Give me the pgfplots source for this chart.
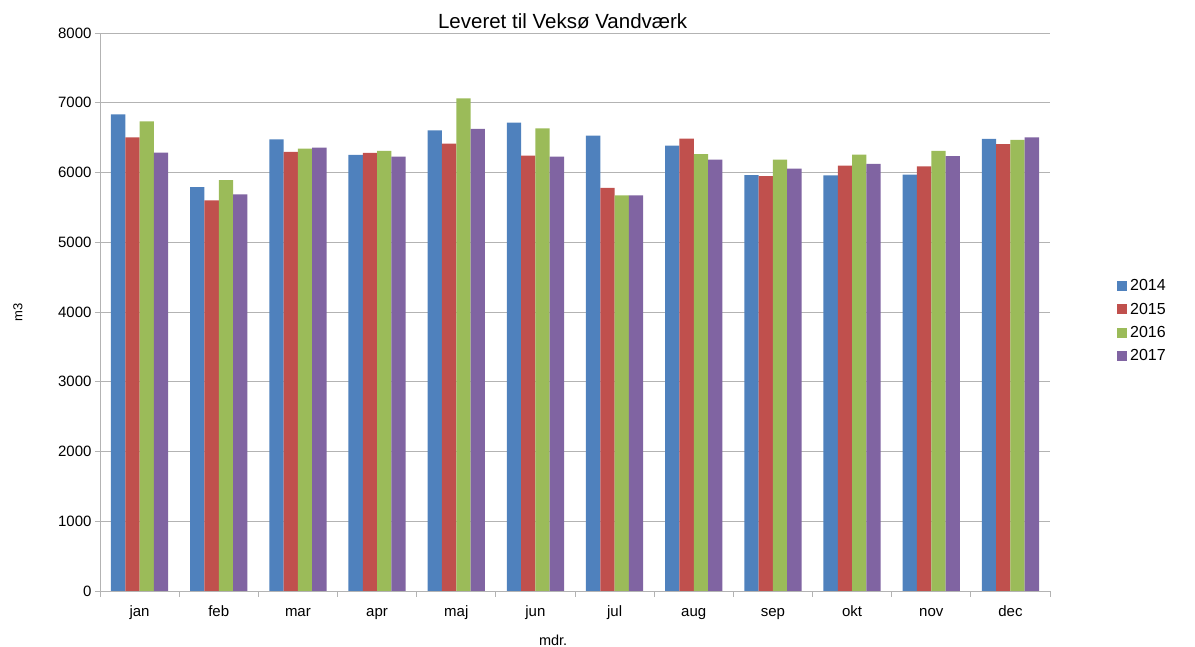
\documentclass[border=0pt]{standalone}
\usepackage{fontspec}
\setmainfont{Liberation Sans}
\usepackage{pgfplots}
\pgfplotsset{compat=1.18}
\definecolor{c1}{HTML}{4F81BD}
\definecolor{c2}{HTML}{C0504D}
\definecolor{c3}{HTML}{9BBB59}
\definecolor{c4}{HTML}{8064A2}
\definecolor{gridc}{HTML}{B3B3B3}
\pgfplotsset{leg/.style={legend image code/.code={\fill[##1] (0pt,-5pt) rectangle (10pt,5pt);}}}
\begin{document}
\begin{tikzpicture}[x=1pt,y=1pt]
\useasboundingbox (0,0) rectangle (1195,647);
\begin{axis}[
  at={(100pt,56pt)}, anchor=south west,
  scale only axis, width=950pt, height=558pt,
  ymin=0, ymax=8000, ytick={0,1000,...,8000},
  xmin=-0.5, xmax=11.5,
  ybar=0pt, bar width=14.3pt,
  xtick={0,...,11},
  xticklabels={jan,feb,mar,apr,maj,jun,jul,aug,sep,okt,nov,dec},
  major x tick style={draw=none},
  minor xtick={-0.5,0.5,...,11.5},
  tick align=outside,
  major tick length=5pt, minor tick length=6pt,
  tick style={gridc, line width=0.9pt},
  axis lines*=left,
  axis line style={gridc, line width=0.9pt},
  ymajorgrids, grid style={gridc, line width=0.9pt},
  ticklabel style={font=\fontsize{15}{18}\selectfont, text=black},
  xticklabel style={text height=1.6ex, text depth=0.4ex, yshift=-9pt},
  /pgf/number format/assume math mode=true,
  /pgf/number format/set thousands separator={},
  scaled y ticks=false,
  title={Leveret til Veksø Vandværk},
  title style={font=\fontsize{20.5}{24}\selectfont, at={(axis description cs:0.487,1.0108)}, anchor=center},
  ylabel={m3},
  ylabel style={font=\fontsize{13}{15}\selectfont, at={(axis description cs:-0.0863,0.5)}, anchor=center, rotate=0},
  xlabel={mdr.},
  xlabel style={font=\fontsize{14.5}{17}\selectfont, at={(axis description cs:0.477,-0.0878)}, anchor=center},
  legend style={at={(axis description cs:1.0705,0.484)}, anchor=west, draw=none, fill=none,
    font=\fontsize{16}{19}\selectfont, row sep=6.8pt, column sep=1pt, inner sep=0pt},
  legend cell align=left,
]
\addplot[fill=c1, draw=none, leg] coordinates {(0,6833) (1,5790) (2,6476) (3,6252) (4,6605) (5,6714) (6,6529) (7,6386) (8,5962) (9,5957) (10,5971) (11,6481)};
\addplot[fill=c2, draw=none, leg] coordinates {(0,6505) (1,5600) (2,6295) (3,6281) (4,6414) (5,6243) (6,5781) (7,6486) (8,5948) (9,6100) (10,6086) (11,6405)};
\addplot[fill=c3, draw=none, leg] coordinates {(0,6733) (1,5890) (2,6343) (3,6310) (4,7062) (5,6633) (6,5671) (7,6262) (8,6186) (9,6257) (10,6310) (11,6467)};
\addplot[fill=c4, draw=none, leg] coordinates {(0,6286) (1,5686) (2,6357) (3,6229) (4,6624) (5,6229) (6,5671) (7,6186) (8,6057) (9,6124) (10,6233) (11,6505)};
\legend{2014,2015,2016,2017}
\end{axis}
\end{tikzpicture}
\end{document}
